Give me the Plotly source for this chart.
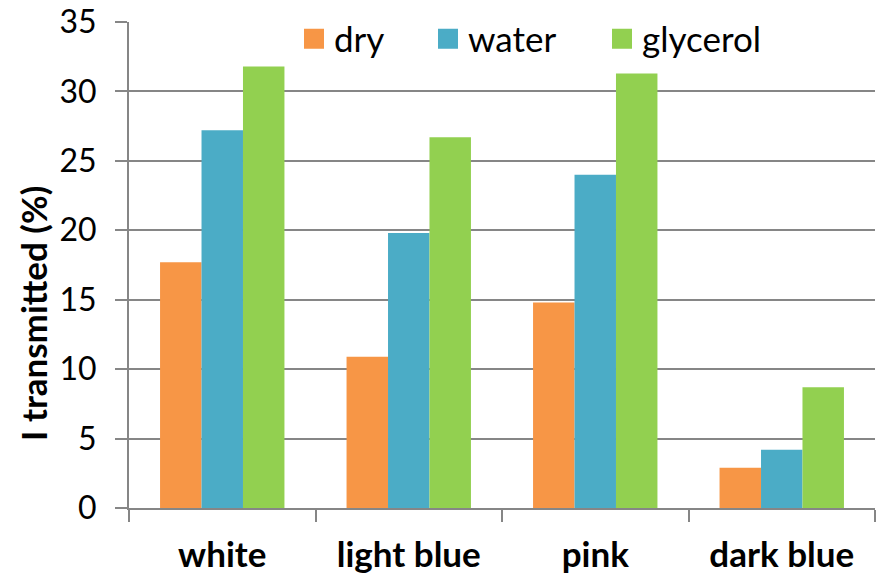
import plotly.graph_objects as go

categories = ["white", "light blue", "pink", "dark blue"]
dry = [17.7, 10.9, 14.8, 2.9]
water = [27.2, 19.8, 24.0, 4.2]
glycerol = [31.8, 26.7, 31.3, 8.7]
series_names = ["dry", "water", "glycerol"]
colors = ["#F79646", "#4BACC6", "#92D050"]
y_ticks = [0, 5, 10, 15, 20, 25, 30, 35]

FONT = "Lato"
GRAY = "#868686"

fig = go.Figure()
for name, vals, col in zip(series_names, [dry, water, glycerol], colors):
    fig.add_trace(go.Bar(x=categories, y=vals, name=name, marker=dict(color=col, line=dict(width=0)),
                         showlegend=False))

legend_ids = ["legend", "legend2", "legend3"]
legend_x = [(294 - 129) / 746, (428 - 129) / 746, (602 - 129) / 746]
for name, col, lid in zip(series_names, colors, legend_ids):
    fig.add_trace(go.Scatter(x=[None], y=[None], mode="markers", name=name, legend=lid,
                             marker=dict(symbol="square", size=16, color=col,
                                         line=dict(color=col, width=4)),
                             showlegend=True))

legend_common = dict(orientation="h", yanchor="middle", xanchor="left",
                     y=1 - (39 - 22) / 486, bgcolor="rgba(0,0,0,0)",
                     font=dict(family=FONT, size=35, color="black"))
layout_legends = {}
for lid, lx in zip(legend_ids, legend_x):
    layout_legends[lid] = dict(legend_common, x=lx)

fig.update_layout(
    width=883, height=576,
    margin=dict(l=129, r=8, t=22, b=68, autoexpand=False),
    paper_bgcolor="white", plot_bgcolor="white",
    barmode="group", bargap=0.333, bargroupgap=0,
    font=dict(family=FONT, size=34, color="black"),
    **layout_legends,
    xaxis=dict(type="category", showline=True, linecolor=GRAY, linewidth=2,
               ticks="outside", tickson="boundaries", ticklen=12, tickcolor=GRAY, tickwidth=2,
               tickfont=dict(family=FONT, size=35, weight="bold", color="black"),
               ticklabelstandoff=15, showgrid=False, automargin=False, ticklabeloverflow="allow"),
    yaxis=dict(range=[0, 35], tickvals=y_ticks, showline=True, linecolor=GRAY, linewidth=2,
               ticks="outside", ticklen=12, tickcolor=GRAY, tickwidth=2,
               showgrid=True, gridcolor=GRAY, gridwidth=2, zeroline=False,
               tickfont=dict(family=FONT, size=32, color="black"),
               ticklabelstandoff=12, automargin=False, ticklabeloverflow="allow"),
    annotations=[dict(text="I transmitted (%)", textangle=-90, xref="paper", yref="paper",
                      x=(33 - 129) / 746, y=(508 - 314) / 486, xanchor="center", yanchor="middle",
                      showarrow=False, font=dict(family=FONT, size=35, weight="bold", color="black"))],
)

fig.write_html("out.html", config={"displayModeBar": False},
               post_script="document.body.style.margin='0px';")
